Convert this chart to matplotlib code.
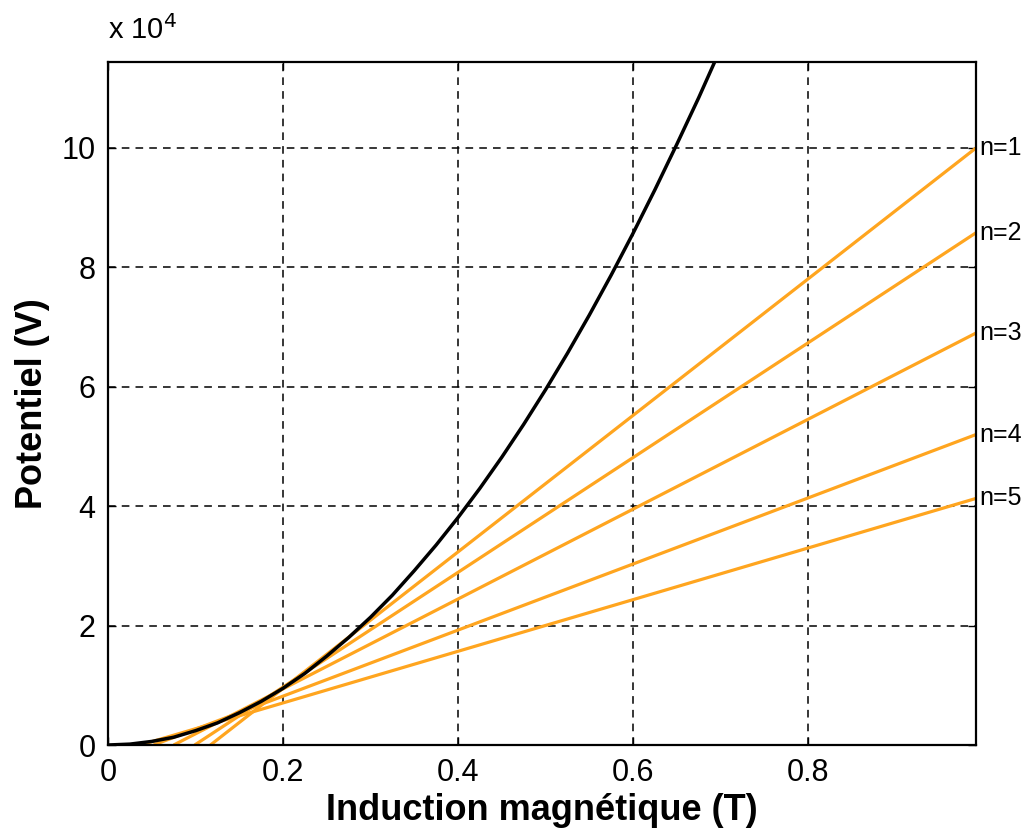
import matplotlib
matplotlib.use("Agg")
import matplotlib.pyplot as plt

plt.rcParams['font.family'] = ['Liberation Sans Narrow', 'Liberation Sans', 'DejaVu Sans']

# black curve, induction (T) vs potential (x 1e4 V)
B = [0, 0.025, 0.05, 0.075, 0.1, 0.125, 0.15, 0.175, 0.2, 0.225, 0.25, 0.275,
     0.3, 0.325, 0.35, 0.375, 0.4, 0.425, 0.45, 0.475, 0.5, 0.525, 0.55,
     0.575, 0.6, 0.625, 0.65, 0.675, 0.7]
V = [0, 0.015, 0.06, 0.13, 0.24, 0.37, 0.54, 0.73, 0.95, 1.2, 1.49, 1.8,
     2.14, 2.51, 2.92, 3.35, 3.81, 4.3, 4.82, 5.37, 5.95, 6.56, 7.2,
     7.87, 8.57, 9.3, 10.06, 10.84, 11.66]

# orange lines: start on V=0, end at right edge
labels = ["n=1", "n=2", "n=3", "n=4", "n=5"]
x_start = [0.117, 0.099, 0.075, 0.052, 0.037]
x_end = 0.992
v_end = [10.0, 8.58, 6.9, 5.2, 4.13]

fig = plt.figure(figsize=(10.3, 8.34), dpi=100)
ax = fig.add_axes([0.1049, 0.1067, 0.8427, 0.819])

orange = '#ffa51f'
for lab, x0, v1 in zip(labels, x_start, v_end):
    ax.plot([x0, x_end], [0, v1], color=orange, lw=2.3, solid_capstyle='butt')
    ax.text(x_end + 0.004, v1, lab, fontsize=18, va='center', ha='left')

ax.plot(B, V, color='black', lw=2.5)

ax.set_xlim(0, x_end)
ax.set_ylim(0, 11.44)
ax.set_xticks([0, 0.2, 0.4, 0.6, 0.8])
ax.set_xticklabels(["0", "0.2", "0.4", "0.6", "0.8"])
ax.set_yticks([0, 2, 4, 6, 8, 10])
ax.tick_params(direction='in', length=6, width=1, labelsize=22, top=True, right=True, pad=9)
ax.grid(True, color='black', linestyle=(0, (5, 4)), linewidth=1.1)
for s in ax.spines.values():
    s.set_linewidth(1.6)

ax.set_xlabel("Induction magnétique (T)", fontsize=26, fontweight='bold', labelpad=4)
ax.set_ylabel("Potentiel (V)", fontsize=26, fontweight='bold', labelpad=8)
ax.text(0.0, 1.025, "x 10$^4$", transform=ax.transAxes, fontsize=21, ha='left', va='bottom')

fig.savefig("out.png", dpi=100)
